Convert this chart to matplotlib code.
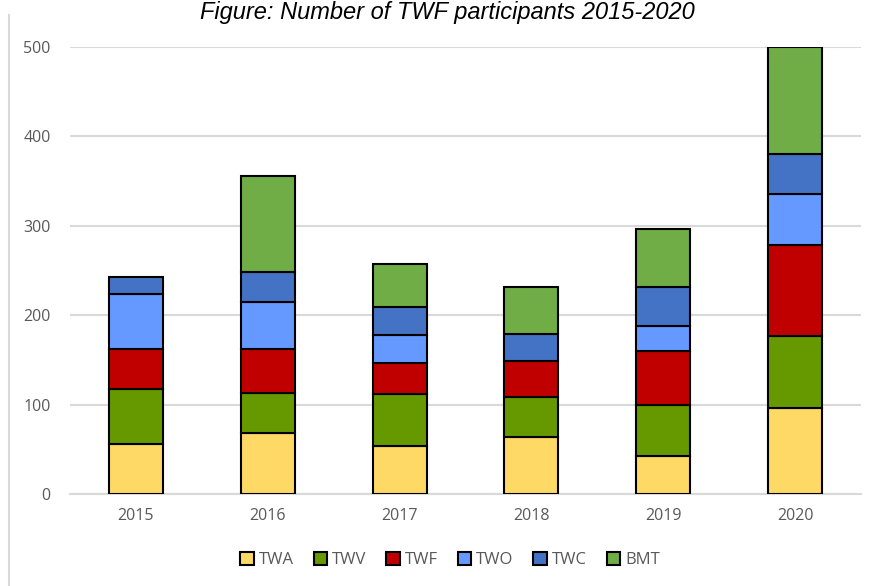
import numpy as np
import matplotlib.pyplot as plt
from matplotlib.lines import Line2D
from matplotlib.patches import Patch

years = ['2015', '2016', '2017', '2018', '2019', '2020']
series = ['TWA', 'TWV', 'TWF', 'TWO', 'TWC', 'BMT']
twa = [56, 68, 54, 64, 42, 96]
twv = [61, 45, 58, 45, 58, 81]
twf = [45, 49, 35, 40, 60, 101]
two = [62, 53, 31, 0, 28, 58]
twc = [19, 33, 31, 30, 44, 44]
bmt = [0, 108, 48, 53, 64, 120]
colors = ['#FFD966', '#669900', '#C00000', '#6699FF', '#4472C4', '#70AD47']


def main():
	plt.rcParams['font.family'] = ['Open Sans', 'DejaVu Sans']
	fig = plt.figure(figsize=(8.71, 5.86), dpi=100)
	ax = fig.add_axes([70 / 871, 92 / 586, 791 / 871, 447 / 586])

	x = np.arange(len(years))
	bottom = np.zeros(len(years))
	for name, vals, c in zip(series, [twa, twv, twf, two, twc, bmt], colors):
		vals = np.asarray(vals, dtype=float)
		keep = vals > 0
		ax.bar(x[keep], vals[keep], 0.41, bottom=bottom[keep], color=c,
			edgecolor='black', linewidth=1.5, zorder=3)
		bottom += vals

	ax.set_xlim(-0.5, len(years) - 0.5)
	ax.set_ylim(0, 500)
	ax.set_yticks([0, 100, 200, 300, 400, 500])
	ax.set_xticks(x)
	ax.set_xticklabels(years)
	ax.tick_params(length=0, labelsize=11.5, labelcolor='#595959')
	ax.tick_params(axis='y', pad=14)
	ax.tick_params(axis='x', pad=10)
	ax.grid(axis='y', color='#D9D9D9', linewidth=1.5, zorder=0)
	for s in ['top', 'right', 'left']:
		ax.spines[s].set_visible(False)
	ax.spines['bottom'].set_color('#D9D9D9')
	ax.spines['bottom'].set_linewidth(1.5)

	handles = [Patch(facecolor=c, edgecolor='black', linewidth=1.5) for c in colors]
	fig.legend(handles, series, loc='center', bbox_to_anchor=(450 / 871, 1 - 560 / 586),
		ncol=6, frameon=False, fontsize=12, handlelength=0.8, handleheight=0.8,
		handletextpad=0.3, columnspacing=1.2, labelcolor='#595959')

	fig.text(447 / 871, 1 - 1 / 586, 'Figure: Number of TWF participants 2015-2020',
		ha='center', va='top', fontsize=17, style='italic', family='Liberation Sans')
	fig.add_artist(Line2D([9 / 871, 9 / 871], [0, 1 - 15 / 586], color='#D9D9D9', linewidth=1.5))

	fig.savefig('out.png', dpi=100)


if __name__ == '__main__':
	main()
